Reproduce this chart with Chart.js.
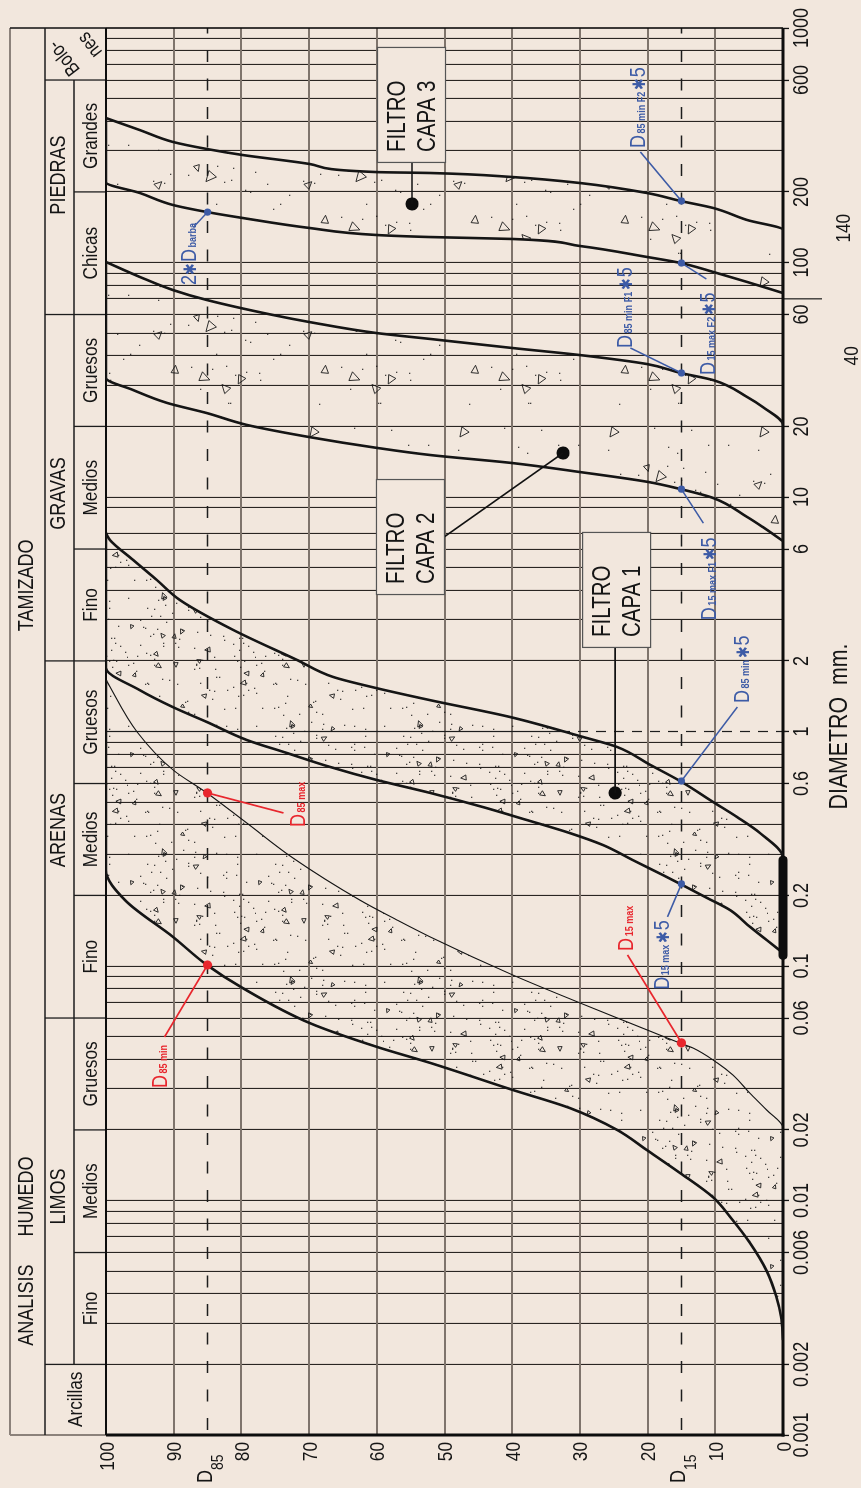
<!DOCTYPE html>
<html><head><meta charset="utf-8">
<script src="https://cdn.jsdelivr.net/npm/chart.js@4.4.1/dist/chart.umd.min.js"></script>
<style>
html,body{margin:0;padding:0;background:#f2e7dd;overflow:hidden;width:861px;height:1488px;}
#wrap{position:absolute;left:0;top:0;width:1488px;height:861px;transform-origin:0 0;transform:translate(0px,1488px) rotate(-90deg);}
canvas{display:block;}
</style></head><body>
<div id="wrap"><canvas id="c" width="1488" height="861"></canvas></div>
<script>
// ================= DATA =================
// diameter tick labels (mm)
const diamLabelValues = [0.001,0.002,0.006,0.01,0.02,0.06,0.1,0.2,0.6,1,2,6,10,20,60,100,200,600,1000];
const diamLabels = ['0.001','0.002','0.006','0.01','0.02','0.06','0.1','0.2','0.6','1','2','6','10','20','60','100','200','600','1000'];
const extraDiamValues = [40,140];
const extraDiamLabels = ['40','140'];
// % passing axis
const pctTicks = [0,10,20,30,40,50,60,70,80,90,100];
const pctLabels = ['0','10','20','30','40','50','60','70','80','90','100'];
const pctRefLines = [85,15];
const pctRefLabels = ['85','15'];

// grading curves [diameter mm, % passing]
const sueloFino = [[0.00254,0],[0.0032,0.3],[0.0039,1],[0.0050,2.4],[0.0066,4.9],[0.0085,7.8],[0.0103,10.3],[0.0131,15.2],[0.0164,20.1],[0.020,24.5],[0.0248,31.5],[0.0296,39.9],[0.0386,52.1],[0.0452,60],[0.0571,69.9],[0.0805,79.8],[0.101,85.1],[0.133,90.1],[0.191,97.2],[0.2566,100],[1.66,100]];
const sueloGrueso = [[0.00254,0],[0.0204,0],[0.0243,2.4],[0.0287,4.9],[0.0343,7.4],[0.0386,9.7],[0.0447,13.3],[0.0469,15.2],[0.0571,22.6],[0.0696,30],[0.0915,39.9],[0.133,52.1],[0.157,57],[0.191,62.5],[0.289,72.4],[0.407,79.2],[0.547,85.1],[0.686,90.1],[0.995,95.4],[1.66,100]];
const filtro1Fino = [[0.1136,0],[0.129,2.4],[0.147,4.9],[0.173,7.8],[0.195,11.2],[0.224,15.2],[0.244,17.7],[0.283,22.2],[0.328,26.6],[0.369,31.5],[0.419,37.8],[0.476,44.3],[0.547,52.1],[0.621,60],[0.706,66.9],[0.81,73.3],[0.92,79.2],[1.098,85.1],[1.27,90.1],[1.5,95],[1.87,100],[7.02,100]];
const filtro1Grueso = [[0.1136,0],[0.289,0],[0.369,3.4],[0.432,6.8],[0.50,10.3],[0.615,15.2],[0.72,19.6],[0.859,24.5],[0.947,29.5],[1.153,40.3],[1.36,52.1],[1.53,60],[1.71,66.5],[2.02,71.8],[2.71,81.2],[3.64,89.1],[4.43,92.5],[5.39,96],[6.55,99.4],[7.02,100]];
const filtro1Base = [[0.111,0],[0.283,0]];
const filtro2Fino = [[6.49,0],[7.45,3],[8.22,5.3],[9.9,10.3],[10.82,15.2],[11.59,19.9],[12.78,30],[13.96,40],[15.1,52.1],[16.2,60],[18.0,69.9],[20.3,79.2],[22.8,85.1],[25.2,91],[28.6,96],[32.2,100],[100.5,100]];
const filtro2Grueso = [[6.49,0],[20.3,0],[24.2,3],[26.7,5.3],[31.5,10.3],[33.8,15.1],[36.9,20.1],[40.3,30],[43.2,40],[47.2,52.1],[50,60],[55.7,69.9],[59.7,75.3],[69.2,85.1],[76.3,90.1],[86.8,95],[100.5,100]];
const filtro3Fino = [[74.1,0],[82.6,5.3],[91.1,10.3],[99.5,15.1],[105.6,20.1],[117.6,30],[126,40],[128.4,52.1],[131,60],[140.3,69.9],[154.8,79.8],[164.2,85.1],[175.9,90.1],[197.9,95],[220,100],[413,100]];
const filtro3Grueso = [[74.1,0],[137.6,0],[151.8,5.3],[170.8,10.3],[182.9,15.1],[197.9,20.1],[218.3,30],[231.5,40],[240.8,52.1],[243,60],[263,69.9],[287.3,79.8],[304.8,85.1],[326.6,90.1],[367,95],[413,100]];

// marked points
const puntosRojos = [[0.101,85],[0.547,85],[0.047,15]];
const textosRojos = [['D','85 min',''],['D','85 max',''],['D','15 max','']];
const puntosAzules = [[164,85],[183,15],[99.5,15],[33.8,15],[10.8,15],[0.615,15],[0.224,15]];
const textosAzules = [['2\u2731D','barba',''],['D','85 min F2','\u27315'],['D','15 max F2','\u27315'],['D','85 min F1','\u27315'],['D','15 max F1','\u27315'],['D','85 min','\u27315'],['D','15 max','\u27315']];
const puntosFiltro = [[0.547,24.8],[15.4,32.5],[177.7,54.8]];
const textosFiltro = [['FILTRO','CAPA 1'],['FILTRO','CAPA 2'],['FILTRO','CAPA 3']];

// soil classification header
const encabezado1 = [['ANALISIS',0.00358],['HUMEDO',0.0104],['TAMIZADO',4.2]];
const clases = [['Arcillas',0.00142],['LIMOS',0.0104],['ARENAS',0.38],['GRAVAS',10.35],['PIEDRAS',236]];
const limitesClase = [0.002,0.06,2,60,600];
const subclases = [['Fino',0.002,0.006],['Medios',0.006,0.02],['Gruesos',0.02,0.06],['Fino',0.06,0.2],['Medios',0.2,0.6],['Gruesos',0.6,2],['Fino',2,6],['Medios',6,20],['Gruesos',20,60],['Chicas',60,200],['Grandes',200,600]];
const limitesSubclase = [0.006,0.02,0.2,0.6,6,20,200];

// ================= STYLE / LAYOUT =================
const FONT = '"Liberation Sans",Arial,sans-serif';
const SX = 0.82; // condensed text (Arial Narrow look)
const BG = '#f2e7dd';
const BLUE = '#3d5ba6', RED = '#e8262d', INK = '#151515';
// label placement offsets (px) relative to their point
const lideresRojos = [[-72,-43],[-20,76],[88,-54]];
const posTextoRojo = [[-123,-41],[-34,97],[92,-48]];
const lideresAzules = [[-15,-14],[49,-41],[-16,25],[25,-51],[-34,22],[74,56],[-33,-14]];
const posTextoAzul = [[-73,-12],[53,-36],[-112,34],[25,-49],[-131,35],[78,68],[-106,-12]];
const cajasFiltro = [[145,-33,'left'],[-142,-187,'bottom'],[41,-35,'left']];

// grid values of log axis (1..9 per decade; the 8 mm line is absent in the original)
const gridVals = [];
for (let k = -3; k <= 2; k++) for (let m = 1; m <= 9; m++) {
  const v = parseFloat((m * Math.pow(10, k)).toPrecision(3));
  if (v === 8) continue;
  gridVals.push(v);
}
gridVals.push(1000);
const same = (a, b) => Math.abs(Math.log10(a) - Math.log10(b)) < 1e-6;
const labelIndex = v => diamLabelValues.findIndex(d => same(d, v));

// ================= STIPPLE PATTERNS (hatch texture) =================
const canvas = document.getElementById('c');
const ctx0 = canvas.getContext('2d');
const hash = n => { const s = Math.sin(n * 12.9898 + 78.233) * 43758.5453; return s - Math.floor(s); };
function stipple(size, dots, tris, tmin, tmax, seed) {
  const cv = document.createElement('canvas'); cv.width = size; cv.height = size;
  const g = cv.getContext('2d');
  g.fillStyle = 'rgba(25,25,25,0.8)';
  for (let i = 1; i <= dots; i++) {
    const x = hash(seed + i * 2.17) * size, y = hash(seed + i * 3.91 + 0.5) * size;
    g.fillRect(Math.floor(x), Math.floor(y), 1.3, 1.3);
  }
  g.strokeStyle = 'rgba(25,25,25,0.9)'; g.lineWidth = 1;
  for (let j = 1; j <= tris; j++) {
    const r = tmin + (tmax - tmin) * hash(seed + j * 7.3);
    const cx = tmax + hash(seed + j * 5.1 + 0.3) * (size - 2 * tmax);
    const cy = tmax + hash(seed + j * 6.7 + 0.9) * (size - 2 * tmax);
    const ang = hash(seed + j * 1.9) * 6.283;
    g.beginPath();
    for (let k = 0; k < 3; k++) {
      const t = ang + k * 2.0944, rr = k === 0 ? r * 1.3 : r;
      const px = cx + rr * Math.cos(t), py = cy + rr * Math.sin(t);
      k ? g.lineTo(px, py) : g.moveTo(px, py);
    }
    g.closePath(); g.stroke();
  }
  return ctx0.createPattern(cv, 'repeat');
}
const patDenso = stipple(128, 105, 18, 2.0, 3.2, 11);
const patRalo = stipple(150, 34, 8, 3.2, 5.8, 37);

// ================= DATASETS =================
const pts = arr => arr.map(([x, y]) => ({x, y}));
function curva(data, width, pat) {
  return { data: pts(data), borderColor: INK, borderWidth: width, pointRadius: 0,
    cubicInterpolationMode: 'monotone', fill: pat ? '+1' : false,
    backgroundColor: pat || 'rgba(0,0,0,0)' };
}
function puntos(data, color, r) {
  return { data: pts(data), showLine: false, pointRadius: r, pointBackgroundColor: color,
    pointBorderColor: color, pointBorderWidth: 0, clip: false };
}
const datasets = [
  puntos(puntosRojos, RED, 4.6),
  puntos(puntosAzules, BLUE, 3.6),
  puntos(puntosFiltro, '#0d0d0d', 6.6),
  { data: pts(filtro1Base), borderColor: '#0d0d0d', borderWidth: 9, borderCapStyle: 'round', pointRadius: 0, clip: false, fill: false },
  curva(sueloFino, 2.6, patDenso),
  curva(sueloGrueso, 1.1, null),
  curva(filtro1Fino, 2.6, patDenso),
  curva(filtro1Grueso, 2.6, null),
  curva(filtro2Fino, 2.6, patRalo),
  curva(filtro2Grueso, 2.6, null),
  curva(filtro3Fino, 2.6, patRalo),
  curva(filtro3Grueso, 2.6, null)
];

// ================= DRAW HELPERS =================
function ln(c, x1, y1, x2, y2) { c.beginPath(); c.moveTo(x1, y1); c.lineTo(x2, y2); c.stroke(); }
// condensed text; returns drawn width
function txt(c, s, x, y, size, opts = {}) {
  c.save();
  c.font = (opts.bold ? 'bold ' : '') + size + 'px ' + FONT;
  c.fillStyle = opts.color || INK; c.textAlign = 'left'; c.textBaseline = 'alphabetic';
  const w = c.measureText(s).width * SX;
  const al = opts.align || 'center';
  const x0 = al === 'center' ? x - w / 2 : (al === 'right' ? x - w : x);
  c.translate(x0, y); c.scale(SX, 1); c.fillText(s, 0, 0);
  c.restore();
  return w;
}
function partes(c, x, y, p, color) {
  const big = s => { for (const ch of s) x += txt(c, ch, x, y, ch === '\u2731' ? 17 : 22, {align: 'left', color}) + (ch === '\u2731' ? 1 : 0.5); };
  big(p[0]);
  if (p[1]) x += txt(c, p[1], x + 1, y, 11, {align: 'left', color, bold: true}) + 3;
  if (p[2]) big(p[2]);
}

const dibujo = {
  id: 'dibujo',
  beforeDraw(chart) {
    const c = chart.ctx; c.save(); c.fillStyle = BG; c.fillRect(0, 0, chart.width, chart.height); c.restore();
  },
  beforeDatasetsDraw(chart) {
    const c = chart.ctx, xs = chart.scales.x, ys = chart.scales.y, a = chart.chartArea;
    const X = v => xs.getPixelForValue(v), Y = v => ys.getPixelForValue(v);
    const L = X(0.001), R = X(1000), T0 = 10, T1 = 45, T2 = 74, T3 = a.top, B = a.bottom;
    c.save();
    // header frame
    c.lineCap = 'butt';
    c.strokeStyle = '#8c827b'; c.lineWidth = 2;
    ln(c, L, T0, R, T0); ln(c, L, T0, L, T3);
    c.strokeStyle = '#1d1d1d'; c.lineWidth = 1.3;
    ln(c, L, T1, R, T1); ln(c, X(0.002), T2, X(600), T2);
    limitesClase.forEach(v => ln(c, X(v), T1, X(v), T3));
    limitesSubclase.forEach(v => ln(c, X(v), T2, X(v), T3));
    c.lineWidth = 1.6; ln(c, R, T0, R, T3);
    // header texts
    encabezado1.forEach(([s, v]) => txt(c, s, X(v), 33, 22));
    clases.forEach(([s, v]) => txt(c, s, X(v), s === 'Arcillas' ? 82 : 65, s === 'Arcillas' ? 21 : 22));
    subclases.forEach(([s, v1, v2]) => txt(c, s, X(Math.sqrt(v1 * v2)), 97, 21));
    // Bolones (diagonal)
    const bx = (X(600) + R) / 2;
    c.save(); c.translate(bx - 4, 64); c.rotate(-0.66); txt(c, 'Bolo-', 0, 6, 20); c.restore();
    c.save(); c.translate(bx + 9, 90); c.rotate(-0.66); txt(c, 'nes', 0, 6, 20); c.restore();
    // 1 mm line: solid then dashed beyond plot
    c.strokeStyle = '#1d1d1d'; c.lineWidth = 1.2;
    ln(c, X(1), T3, X(1), 560);
    c.setLineDash([10, 8]); ln(c, X(1), 560, X(1), 798); c.setLineDash([]);
    // 70 mm extension mark
    ln(c, X(70), B, X(70), 822);
    // dashed reference lines 85 / 15
    c.strokeStyle = '#1d1d1d'; c.lineWidth = 1.4; c.setLineDash([12, 16.5]); c.lineDashOffset = -5;
    pctRefLines.forEach(p => ln(c, L, Y(p), R, Y(p)));
    c.setLineDash([]);
    // plot frame
    c.strokeStyle = '#0d0d0d';
    c.lineWidth = 2; ln(c, L, T3, R, T3);
    c.lineWidth = 3; ln(c, L, T3, L, B + 1.5); ln(c, L - 1.5, B, R, B);
    c.lineWidth = 1.6; ln(c, R, T3, R, B);
    // axis labels (positioned through the scales)
    diamLabelValues.forEach((v, i) => txt(c, diamLabels[i], X(v), B + 25, 22));
    extraDiamValues.forEach((v, i) => txt(c, extraDiamLabels[i], X(v), v === 40 ? 858 : 850, 21));
    txt(c, 'DIAMETRO  mm.', X(1.05), 847, 26);
    pctTicks.forEach((p, i) => txt(c, pctLabels[i], L - 7, Y(p) + 7.5, 21, {align: 'right'}));
    pctRefLines.forEach((p, i) => {
      txt(c, 'D', 5, Y(p) + 4, 22, {align: 'left'});
      txt(c, pctRefLabels[i], 18, Y(p) + 15, 17, {align: 'left'});
    });
    c.restore();
  },
  afterDatasetsDraw(chart) {
    const c = chart.ctx, xs = chart.scales.x, ys = chart.scales.y;
    const P = ([d, p]) => [xs.getPixelForValue(d), ys.getPixelForValue(p)];
    c.save();
    puntosRojos.forEach((pt, i) => {
      const [x, y] = P(pt);
      c.strokeStyle = RED; c.lineWidth = 1.7;
      ln(c, x, y, x + lideresRojos[i][0], y + lideresRojos[i][1]);
      partes(c, x + posTextoRojo[i][0], y + posTextoRojo[i][1], textosRojos[i], RED);
    });
    puntosAzules.forEach((pt, i) => {
      const [x, y] = P(pt);
      c.strokeStyle = BLUE; c.lineWidth = 1.5;
      ln(c, x, y, x + lideresAzules[i][0], y + lideresAzules[i][1]);
      partes(c, x + posTextoAzul[i][0], y + posTextoAzul[i][1], textosAzules[i], BLUE);
    });
    // filter boxes
    puntosFiltro.forEach((pt, i) => {
      const [x, y] = P(pt);
      const [dx, dy, side] = cajasFiltro[i];
      const bx = x + dx, by = y + dy, w = 115, h = 68;
      c.strokeStyle = '#111'; c.lineWidth = 1.6;
      if (side === 'left') ln(c, x, y, bx, y);
      else ln(c, x, y, bx + 58, by + h);
      c.fillStyle = BG; c.fillRect(bx, by, w, h);
      c.strokeStyle = '#555'; c.lineWidth = 1.2; c.strokeRect(bx + 0.5, by + 0.5, w, h);
      txt(c, textosFiltro[i][0], bx + 11, by + 28, 25, {align: 'left'});
      txt(c, textosFiltro[i][1], bx + 11, by + 58, 25, {align: 'left'});
    });
    c.restore();
  }
};

Chart.defaults.font.family = FONT;
Chart.defaults.color = INK;

new Chart(canvas, {
  type: 'line',
  data: { datasets },
  options: {
    responsive: false, animation: false, events: [],
    layout: { padding: { top: 106, right: 28, left: 0, bottom: 0 } },
    plugins: { legend: { display: false }, tooltip: { enabled: false } },
    scales: {
      x: {
        type: 'logarithmic', min: 0.001, max: 1000,
        afterBuildTicks: s => { s.ticks = gridVals.map(v => ({ value: v })); },
        afterFit: s => { s.height = 78; },
        border: { display: false },
        grid: {
          color: c => (c.tick && (same(c.tick.value, 0.001) || same(c.tick.value, 1000) || same(c.tick.value, 1))) ? 'rgba(0,0,0,0)' : '#2a2522',
          lineWidth: 1.1, tickLength: 6,
          tickColor: c => (c.tick && labelIndex(c.tick.value) >= 0) ? '#111' : 'rgba(0,0,0,0)',
          tickWidth: 1.3
        },
        ticks: { display: false, autoSkip: false }
      },
      y: {
        type: 'linear', min: 0, max: 100,
        afterBuildTicks: s => { s.ticks = pctTicks.map(v => ({ value: v })); },
        afterFit: s => { s.width = 53; },
        border: { display: false },
        grid: { drawTicks: false, lineWidth: 2,
          color: c => (c.tick && (c.tick.value === 0 || c.tick.value === 100)) ? 'rgba(0,0,0,0)' : '#7f746c' },
        ticks: { display: false }
      }
    }
  },
  plugins: [dibujo]
});
</script></body></html>
